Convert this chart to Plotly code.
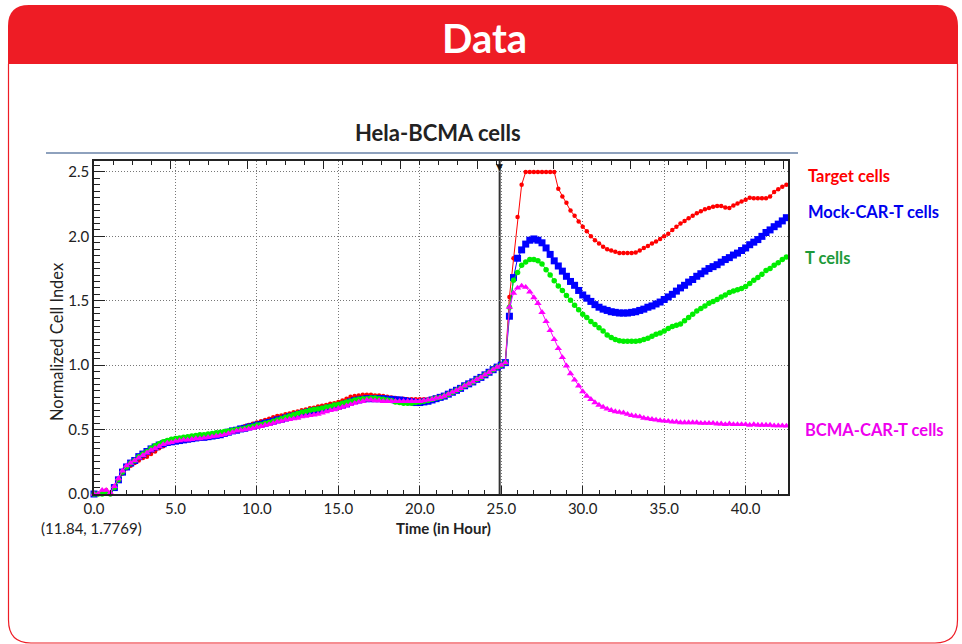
import plotly.graph_objects as go

# ---------------- data ----------------
TIME_H = [
    0.0, 0.25, 0.5, 0.75, 1.0, 1.25, 1.5, 1.75, 2.0, 2.25, 2.5, 2.75,
    3.0, 3.25, 3.5, 3.75, 4.0, 4.25, 4.5, 4.75, 5.0, 5.25, 5.5, 5.75,
    6.0, 6.25, 6.5, 6.75, 7.0, 7.25, 7.5, 7.75, 8.0, 8.25, 8.5, 8.75,
    9.0, 9.25, 9.5, 9.75, 10.0, 10.25, 10.5, 10.75, 11.0, 11.25, 11.5, 11.75,
    12.0, 12.25, 12.5, 12.75, 13.0, 13.25, 13.5, 13.75, 14.0, 14.25, 14.5, 14.75,
    15.0, 15.25, 15.5, 15.75, 16.0, 16.25, 16.5, 16.75, 17.0, 17.25, 17.5, 17.75,
    18.0, 18.25, 18.5, 18.75, 19.0, 19.25, 19.5, 19.75, 20.0, 20.25, 20.5, 20.75,
    21.0, 21.25, 21.5, 21.75, 22.0, 22.25, 22.5, 22.75, 23.0, 23.25, 23.5, 23.75,
    24.0, 24.25, 24.5, 24.75, 25.0, 25.25, 25.5, 25.75, 26.0, 26.25, 26.5, 26.75,
    27.0, 27.25, 27.5, 27.75, 28.0, 28.25, 28.5, 28.75, 29.0, 29.25, 29.5, 29.75,
    30.0, 30.25, 30.5, 30.75, 31.0, 31.25, 31.5, 31.75, 32.0, 32.25, 32.5, 32.75,
    33.0, 33.25, 33.5, 33.75, 34.0, 34.25, 34.5, 34.75, 35.0, 35.25, 35.5, 35.75,
    36.0, 36.25, 36.5, 36.75, 37.0, 37.25, 37.5, 37.75, 38.0, 38.25, 38.5, 38.75,
    39.0, 39.25, 39.5, 39.75, 40.0, 40.25, 40.5, 40.75, 41.0, 41.25, 41.5, 41.75,
    42.0, 42.25, 42.5,
]

TARGET_CELLS = [
    0.00, 0.00, 0.01, 0.03, 0.00, 0.04, 0.11, 0.16, 0.20, 0.22, 0.24, 0.26,
    0.28, 0.29, 0.31, 0.33, 0.355, 0.37, 0.39, 0.40, 0.41, 0.42, 0.425, 0.43,
    0.435, 0.44, 0.44, 0.445, 0.45, 0.45, 0.455, 0.46, 0.47, 0.48, 0.495, 0.505,
    0.515, 0.525, 0.535, 0.545, 0.555, 0.565, 0.575, 0.585, 0.595, 0.605, 0.61, 0.62,
    0.625, 0.635, 0.64, 0.65, 0.655, 0.665, 0.67, 0.68, 0.685, 0.69, 0.70, 0.705,
    0.715, 0.725, 0.74, 0.755, 0.76, 0.765, 0.77, 0.77, 0.77, 0.765, 0.765, 0.76,
    0.755, 0.75, 0.745, 0.74, 0.74, 0.735, 0.735, 0.735, 0.735, 0.735, 0.735, 0.74,
    0.745, 0.75, 0.76, 0.775, 0.79, 0.805, 0.82, 0.84, 0.855, 0.87, 0.89, 0.905,
    0.925, 0.945, 0.965, 0.985, 1.0, 1.02, 1.53, 1.83, 2.15, 2.40, 2.5, 2.5,
    2.5, 2.5, 2.5, 2.5, 2.5, 2.5, 2.37, 2.31, 2.26, 2.20, 2.16, 2.115,
    2.075, 2.04, 2.00, 1.97, 1.945, 1.92, 1.90, 1.89, 1.88, 1.87, 1.87, 1.87,
    1.87, 1.875, 1.89, 1.91, 1.925, 1.945, 1.96, 1.98, 2.0, 2.02, 2.05, 2.075,
    2.10, 2.12, 2.14, 2.16, 2.18, 2.195, 2.21, 2.22, 2.23, 2.235, 2.235, 2.225,
    2.22, 2.24, 2.255, 2.27, 2.285, 2.30, 2.295, 2.295, 2.295, 2.295, 2.31, 2.345,
    2.365, 2.385, 2.40,
]

MOCK_CAR_T = [
    0.00, -0.01, -0.02, -0.01, -0.01, 0.05, 0.11, 0.17, 0.21, 0.24, 0.26, 0.29,
    0.31, 0.33, 0.35, 0.365, 0.38, 0.39, 0.40, 0.405, 0.41, 0.415, 0.42, 0.425,
    0.43, 0.435, 0.44, 0.44, 0.445, 0.45, 0.455, 0.46, 0.47, 0.48, 0.49, 0.495,
    0.505, 0.51, 0.52, 0.525, 0.535, 0.54, 0.55, 0.555, 0.565, 0.575, 0.58, 0.59,
    0.60, 0.605, 0.615, 0.625, 0.63, 0.64, 0.645, 0.65, 0.655, 0.66, 0.67, 0.675,
    0.68, 0.69, 0.70, 0.715, 0.725, 0.73, 0.735, 0.74, 0.74, 0.74, 0.74, 0.74,
    0.735, 0.735, 0.73, 0.73, 0.725, 0.72, 0.715, 0.71, 0.71, 0.715, 0.72, 0.73,
    0.74, 0.75, 0.76, 0.775, 0.79, 0.805, 0.82, 0.84, 0.855, 0.87, 0.89, 0.905,
    0.925, 0.945, 0.965, 0.985, 1.0, 1.02, 1.38, 1.68, 1.83, 1.895, 1.94, 1.97,
    1.98, 1.97, 1.95, 1.91, 1.86, 1.81, 1.77, 1.73, 1.69, 1.65, 1.62, 1.58,
    1.545, 1.52, 1.495, 1.47, 1.45, 1.435, 1.425, 1.415, 1.41, 1.405, 1.405, 1.405,
    1.41, 1.415, 1.425, 1.435, 1.45, 1.46, 1.475, 1.49, 1.51, 1.53, 1.55, 1.575,
    1.60, 1.62, 1.645, 1.665, 1.69, 1.71, 1.73, 1.75, 1.765, 1.78, 1.80, 1.82,
    1.835, 1.855, 1.87, 1.89, 1.91, 1.935, 1.955, 1.975, 2.0, 2.03, 2.05, 2.075,
    2.095, 2.12, 2.145,
]

T_CELLS = [
    0.00, 0.00, 0.00, 0.01, 0.00, 0.05, 0.11, 0.17, 0.21, 0.24, 0.26, 0.29,
    0.31, 0.33, 0.355, 0.375, 0.39, 0.405, 0.415, 0.425, 0.43, 0.435, 0.44, 0.445,
    0.45, 0.455, 0.46, 0.46, 0.465, 0.47, 0.475, 0.48, 0.485, 0.49, 0.495, 0.50,
    0.505, 0.51, 0.52, 0.525, 0.535, 0.54, 0.55, 0.555, 0.565, 0.575, 0.585, 0.595,
    0.605, 0.615, 0.625, 0.635, 0.64, 0.65, 0.655, 0.66, 0.665, 0.675, 0.68, 0.69,
    0.695, 0.705, 0.715, 0.72, 0.73, 0.735, 0.74, 0.74, 0.745, 0.745, 0.74, 0.735,
    0.73, 0.725, 0.715, 0.71, 0.705, 0.705, 0.705, 0.71, 0.715, 0.72, 0.725, 0.735,
    0.745, 0.75, 0.76, 0.775, 0.79, 0.805, 0.82, 0.84, 0.855, 0.87, 0.89, 0.905,
    0.925, 0.945, 0.965, 0.985, 1.0, 1.02, 1.45, 1.66, 1.72, 1.775, 1.80, 1.82,
    1.82, 1.81, 1.785, 1.74, 1.70, 1.655, 1.615, 1.58, 1.54, 1.505, 1.465, 1.43,
    1.395, 1.37, 1.34, 1.315, 1.29, 1.265, 1.235, 1.215, 1.20, 1.19, 1.185, 1.185,
    1.185, 1.185, 1.19, 1.20, 1.21, 1.225, 1.24, 1.25, 1.265, 1.285, 1.30, 1.31,
    1.32, 1.345, 1.37, 1.395, 1.42, 1.44, 1.46, 1.48, 1.495, 1.51, 1.53, 1.545,
    1.565, 1.575, 1.585, 1.595, 1.61, 1.635, 1.66, 1.68, 1.705, 1.735, 1.75, 1.775,
    1.795, 1.82, 1.84,
]

BCMA_CAR_T = [
    0.00, 0.00, 0.03, 0.03, 0.01, 0.06, 0.12, 0.18, 0.22, 0.24, 0.26, 0.28,
    0.30, 0.32, 0.34, 0.355, 0.37, 0.385, 0.395, 0.40, 0.41, 0.415, 0.42, 0.42,
    0.425, 0.43, 0.43, 0.435, 0.44, 0.445, 0.45, 0.455, 0.46, 0.47, 0.48, 0.49,
    0.495, 0.50, 0.505, 0.51, 0.52, 0.525, 0.535, 0.54, 0.55, 0.56, 0.565, 0.575,
    0.58, 0.585, 0.59, 0.60, 0.605, 0.61, 0.615, 0.62, 0.63, 0.64, 0.65, 0.655,
    0.665, 0.675, 0.685, 0.695, 0.705, 0.715, 0.72, 0.73, 0.73, 0.725, 0.725, 0.72,
    0.72, 0.72, 0.72, 0.72, 0.72, 0.72, 0.72, 0.72, 0.72, 0.725, 0.73, 0.735,
    0.745, 0.75, 0.76, 0.775, 0.79, 0.805, 0.82, 0.84, 0.855, 0.87, 0.89, 0.905,
    0.925, 0.945, 0.965, 0.985, 1.0, 1.02, 1.45, 1.56, 1.60, 1.615, 1.605, 1.57,
    1.525, 1.48, 1.41, 1.34, 1.27, 1.20, 1.13, 1.06, 0.995, 0.935, 0.885, 0.84,
    0.795, 0.76, 0.735, 0.71, 0.69, 0.675, 0.66, 0.65, 0.64, 0.635, 0.63, 0.62,
    0.61, 0.605, 0.60, 0.59, 0.585, 0.58, 0.575, 0.57, 0.567, 0.565, 0.56, 0.56,
    0.555, 0.555, 0.555, 0.555, 0.555, 0.55, 0.55, 0.55, 0.55, 0.545, 0.545, 0.54,
    0.545, 0.54, 0.54, 0.54, 0.54, 0.535, 0.54, 0.535, 0.535, 0.535, 0.535, 0.53,
    0.53, 0.53, 0.528,
]

SERIES_NAMES = ["Target cells", "Mock-CAR-T cells", "T cells", "BCMA-CAR-T cells"]
X_TICKS = [0.0, 5.0, 10.0, 15.0, 20.0, 25.0, 30.0, 35.0, 40.0]
Y_TICKS = [0.0, 0.5, 1.0, 1.5, 2.0, 2.5]
ADDITION_TIME = 24.9
CURSOR_TEXT = "(11.84, 1.7769)"

# ---------------- geometry helpers (pixel -> paper) ----------------
W, H = 962, 644
L, R, T, B = 94, 788, 161, 494


def px(x):
    return (x - L) / (R - L)


def py(y):
    return (B - y) / (B - T)


FONT = "Lato"
RED = "#ee1c25"

fig = go.Figure()

styles = [
    dict(color="#ff0000", symbol="circle", size=4.5),
    dict(color="#0000ff", symbol="square", size=7),
    dict(color="#00ee00", symbol="circle", size=5.5),
    dict(color="#ff00ff", symbol="triangle-up", size=6.5),
]
values = [TARGET_CELLS, MOCK_CAR_T, T_CELLS, BCMA_CAR_T]
for name, vals, st in zip(SERIES_NAMES, values, styles):
    fig.add_trace(go.Scatter(
        x=TIME_H, y=vals, name=name, mode="lines+markers",
        line=dict(color=st["color"], width=1),
        marker=dict(color=st["color"], symbol=st["symbol"], size=st["size"], line=dict(width=0)),
        cliponaxis=False, showlegend=False,
    ))

# invisible trace to activate the top tick axis
fig.add_trace(go.Scatter(x=[0], y=[0], xaxis="x2", mode="markers",
                         marker=dict(size=0.1, opacity=0), hoverinfo="skip", showlegend=False))

axis_font = dict(family=FONT, size=15, color="#222222")

fig.update_layout(
    width=W, height=H, autosize=False,
    margin=dict(l=L, r=W - R, t=T, b=H - B, pad=0),
    paper_bgcolor="white", plot_bgcolor="white",
    font=dict(family=FONT, color="#222222"),
    xaxis=dict(
        range=[0, 42.6], tickvals=X_TICKS, ticktext=[f"{v:.1f}" for v in X_TICKS],
        ticks="inside", ticklen=8, tickcolor="#222", tickwidth=1,
        minor=dict(dtick=1, tick0=0, ticks="inside", ticklen=4, tickcolor="#222", showgrid=False),
        showline=True, linecolor="#222", linewidth=1.5, mirror=True,
        showgrid=True, gridcolor="#777777", griddash="1px,2px", gridwidth=1,
        zeroline=False, tickfont=axis_font,
    ),
    xaxis2=dict(
        overlaying="x", side="top", range=[0, 9.06], dtick=1, tick0=0,
        ticks="inside", ticklen=8, tickcolor="#222", showticklabels=False,
        minor=dict(dtick=0.25, ticks="inside", ticklen=4, tickcolor="#222", showgrid=False),
        showgrid=False, showline=False, zeroline=False,
    ),
    yaxis=dict(
        range=[0, 2.585], tickvals=Y_TICKS, ticktext=[f"{v:.1f}" for v in Y_TICKS],
        ticks="inside", ticklen=11, tickcolor="#222",
        minor=dict(dtick=0.05, tick0=0, ticks="inside", ticklen=6, tickcolor="#222", showgrid=False),
        showline=True, linecolor="#222", linewidth=1.5, mirror=True,
        showgrid=True, gridcolor="#777777", griddash="1px,2px", gridwidth=1,
        zeroline=False, tickfont=axis_font,
    ),
)

shapes = [
    # red header with rounded top corners
    dict(type="path", xref="paper", yref="paper",
         path=(f"M {px(8)} {py(64)} L {px(8)} {py(26)} Q {px(8)} {py(5)} {px(29)} {py(5)} "
               f"L {px(937)} {py(5)} Q {px(958)} {py(5)} {px(958)} {py(26)} L {px(958)} {py(64)} Z"),
         fillcolor=RED, line=dict(width=0), layer="above"),
    # panel border
    dict(type="path", xref="paper", yref="paper",
         path=(f"M {px(8.5)} {py(64)} L {px(8.5)} {py(620)} Q {px(8.5)} {py(643)} {px(31)} {py(643)} "
               f"L {px(935)} {py(643)} Q {px(957.5)} {py(643)} {px(957.5)} {py(620)} L {px(957.5)} {py(64)}"),
         line=dict(color=RED, width=1.2), layer="above"),
    # rule under the chart title
    dict(type="line", xref="paper", yref="paper", x0=px(46), x1=px(798), y0=py(153), y1=py(153),
         line=dict(color="#8ea1bd", width=2)),
    # compound addition line
    dict(type="line", xref="x", yref="paper", x0=ADDITION_TIME, x1=ADDITION_TIME, y0=0, y1=1,
         line=dict(color="#333333", width=2), layer="below"),
]
fig.update_layout(shapes=shapes)

ann = []
ann.append(dict(text="<b>Data</b>", x=px(484), y=py(38), xref="paper", yref="paper",
                showarrow=False, font=dict(family=FONT, size=40, color="white"),
                xanchor="center", yanchor="middle"))
ann.append(dict(text="<b>Hela-BCMA cells</b>", x=px(438), y=py(133), xref="paper", yref="paper",
                showarrow=False, font=dict(family=FONT, size=22, color="#222222"),
                xanchor="center", yanchor="middle"))
ann.append(dict(text="Normalized Cell Index", x=px(57), y=py(342), xref="paper", yref="paper",
                showarrow=False, textangle=-90, font=dict(family=FONT, size=16.5, color="#222222"),
                xanchor="center", yanchor="middle"))
ann.append(dict(text="<b>Time (in Hour)</b>", x=px(443), y=py(528), xref="paper", yref="paper",
                showarrow=False, font=dict(family=FONT, size=15, color="#222222"),
                xanchor="center", yanchor="middle"))
ann.append(dict(text=CURSOR_TEXT, x=px(39), y=py(528), xref="paper", yref="paper",
                showarrow=False, font=dict(family=FONT, size=15, color="#222222"),
                xanchor="left", yanchor="middle"))
ann.append(dict(text="▼", x=ADDITION_TIME, y=1, xref="x", yref="paper",
                showarrow=False, font=dict(family="DejaVu Sans", size=9, color="#111111"),
                xanchor="center", yanchor="top", yshift=1))

label_specs = [
    ("Target cells", "#ff0000", 806, 176),
    ("Mock-CAR-T cells", "#0000ee", 806, 212),
    ("T cells", "#1d9a3a", 803, 258),
    ("BCMA-CAR-T cells", "#ee00ee", 803, 430),
]
for text, col, x, y in label_specs:
    ann.append(dict(text=f"<b>{text}</b>", x=px(x), y=py(y), xref="paper", yref="paper",
                    showarrow=False, font=dict(family=FONT, size=16.5, color=col),
                    xanchor="left", yanchor="middle"))
fig.update_layout(annotations=ann)

fig.write_html("out.html", post_script="document.body.style.margin='0';",
               config={"displayModeBar": False})
